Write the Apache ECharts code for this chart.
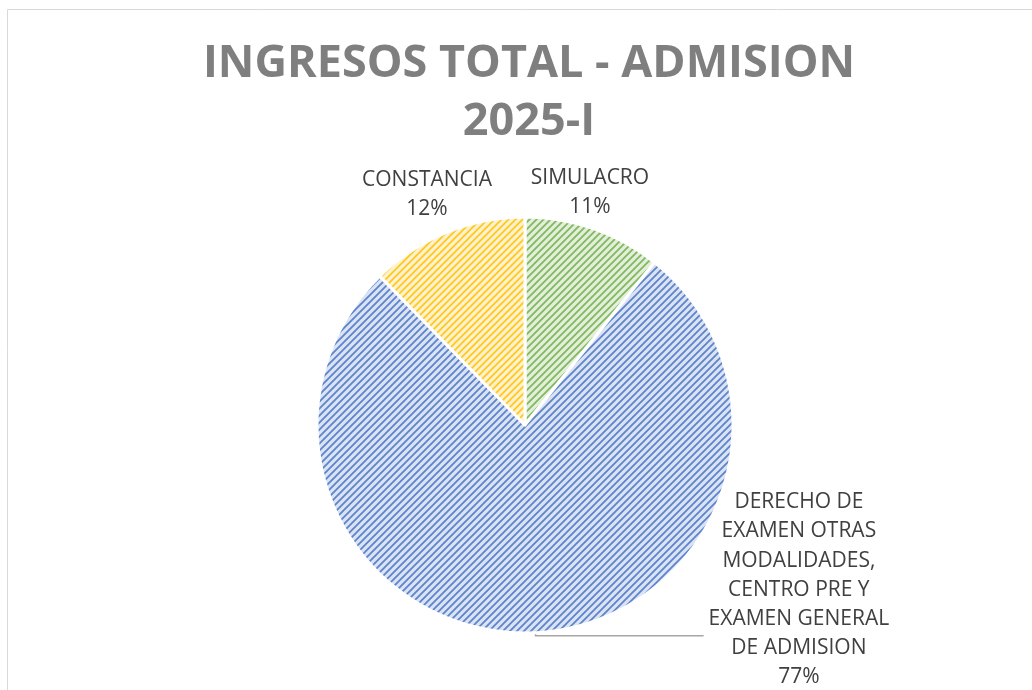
<!DOCTYPE html>
<html>
<head>
<meta charset="utf-8">
<script src="https://cdn.jsdelivr.net/npm/echarts@6/dist/echarts.min.js"></script>
<style>
  html, body { margin: 0; padding: 0; background: #fff; }
  #main { width: 1032px; height: 690px; }
</style>
</head>
<body>
<div id="main"></div>
<script>
// datos (porcentajes aproximados)
const categorias = ['SIMULACRO', 'DERECHO DE EXAMEN OTRAS MODALIDADES, CENTRO PRE Y EXAMEN GENERAL DE ADMISION', 'CONSTANCIA'];
const lineasEtiqueta = [
  ['SIMULACRO'],
  ['DERECHO DE', 'EXAMEN OTRAS', 'MODALIDADES,', 'CENTRO PRE Y', 'EXAMEN GENERAL', 'DE ADMISION'],
  ['CONSTANCIA']
];
const valores = [10.7, 77.0, 12.3];
const colorLinea = ['#70ad47', '#4472c4', '#ffc000'];
const colorFondo = ['#e2efda', '#dae3f3', '#fff2cc'];

// trama diagonal como la de Excel
function trama(fondo, linea) {
  const s = 7;
  const c = document.createElement('canvas');
  c.width = s; c.height = s;
  const ctx = c.getContext('2d');
  ctx.fillStyle = fondo;
  ctx.fillRect(0, 0, s, s);
  ctx.strokeStyle = linea;
  ctx.globalAlpha = 0.85;
  ctx.lineWidth = 1.7;
  ctx.beginPath();
  ctx.moveTo(-1, s + 1); ctx.lineTo(s + 1, -1);
  ctx.moveTo(-1, 1); ctx.lineTo(1, -1);
  ctx.moveTo(s - 1, s + 1); ctx.lineTo(s + 1, s - 1);
  ctx.stroke();
  return c;
}

const datos = categorias.map((n, i) => {
  const item = {
    name: n,
    value: valores[i],
    itemStyle: { color: { image: trama(colorFondo[i], colorLinea[i]), repeat: 'repeat' } },
    labelLine: { show: false }
  };
  if (i === 1) {
    item.labelLine = { show: true, length: 3, length2: 168 };
    item.label = {
      formatter: p => lineasEtiqueta[1].map(t => '{c|' + t + '}').join('\n') + '\n{c|' + p.percent + '%}',
      padding: [0, 0, 92, 0],
      rich: { c: { align: 'center', color: '#404040', fontFamily: 'Open Sans', fontSize: 21, lineHeight: 29.2 } }
    };
  }
  return item;
});

const myChart = echarts.init(document.getElementById('main'));
const option = {
  animation: false,
  graphic: [{
    type: 'rect',
    shape: { x: 7.5, y: 9.5, width: 1100, height: 800 },
    style: { fill: 'none', stroke: '#d9d9d9', lineWidth: 1 },
    silent: true
  }],
  title: {
    text: 'INGRESOS TOTAL - ADMISION\n2025-I',
    left: 524,
    top: 30,
    textAlign: 'center',
    textStyle: {
      color: '#7f7f7f',
      fontFamily: 'Open Sans',
      fontWeight: 'bold',
      fontSize: 45,
      lineHeight: 58
    }
  },
  series: [{
    type: 'pie',
    center: [525, 425],
    radius: 208,
    startAngle: 90,
    clockwise: true,
    percentPrecision: 0,
    avoidLabelOverlap: false,
    itemStyle: { borderColor: '#fff', borderWidth: 3 },
    label: {
      show: true,
      position: 'outside',
      formatter: '{b}\n{d}%',
      color: '#404040',
      fontFamily: 'Open Sans',
      fontSize: 21,
      lineHeight: 29,
      align: 'center'
    },
    labelLine: {
      lineStyle: { color: '#a6a6a6', width: 1.6 }
    },
    labelLayout: function (p) {
      if (p.dataIndex === 0) return { x: 590, y: 193, align: 'center', verticalAlign: 'middle' };
      if (p.dataIndex === 2) return { x: 427, y: 195, align: 'center', verticalAlign: 'middle' };
      return {};
    },
    data: datos
  }]
};
myChart.setOption(option);
</script>
</body>
</html>
